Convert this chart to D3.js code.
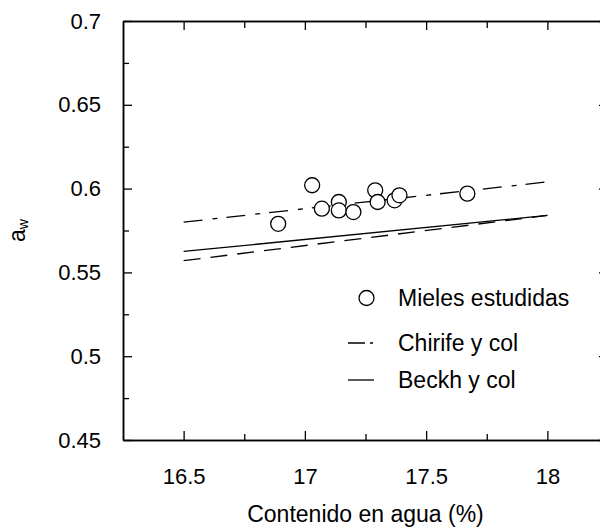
<!DOCTYPE html>
<html>
<head>
<meta charset="utf-8">
<script src="https://cdn.jsdelivr.net/npm/d3@7"></script>
<style>
  body { margin: 0; background: #fff; }
  svg { display: block; }
  text { font-family: "Liberation Sans", Arial, sans-serif; fill: #000; }
</style>
</head>
<body>
<svg id="chart"></svg>
<script>
// measured honeys
const waterContent = [16.89, 17.03, 17.07, 17.14, 17.14, 17.2, 17.29, 17.3, 17.37, 17.39, 17.67];
const awMeasured = [0.579, 0.602, 0.588, 0.592, 0.587, 0.586, 0.599, 0.592, 0.593, 0.596, 0.597];

// fitted lines (endpoints)
const lineX = [16.5, 18];
const fitAw = [0.58, 0.604];
const chirifeAw = [0.557, 0.584];
const beckhAw = [0.5625, 0.584];

const xMajor = [16.5, 17, 17.5, 18];
const xMinor = [16.75, 17.25, 17.75];
const yMajor = [0.45, 0.5, 0.55, 0.6, 0.65, 0.7];
const yMinor = [0.475, 0.525, 0.575, 0.625, 0.675];

const legendLabels = ["Mieles estudidas", "Chirife y col", "Beckh y col"];

const width = 600;
const height = 530;
const fontSize = 22;
const titleSize = 23;

const svg = d3.select("#chart").attr("width", width).attr("height", height);

const x = d3.scaleLinear().domain([16.25, 18.25]).range([123, 608]);
const y = d3.scaleLinear().domain([0.45, 0.7]).range([440, 21]);

function styleAxis(g) {
  g.select(".domain").attr("stroke", "#000").attr("stroke-width", 1.5);
  g.selectAll(".tick line").attr("stroke", "#000").attr("stroke-width", 1.3);
  g.selectAll(".tick text")
    .attr("font-size", fontSize)
    .attr("font-family", "Liberation Sans, Arial, sans-serif")
    .attr("fill", "#000");
}

// bottom
svg.append("g")
  .attr("transform", `translate(0,${y(0.45)})`)
  .call(d3.axisBottom(x).tickValues(xMajor).tickSizeInner(-9).tickSizeOuter(0)
    .tickPadding(28).tickFormat(d3.format("")))
  .call(styleAxis);
svg.append("g")
  .attr("transform", `translate(0,${y(0.45)})`)
  .call(d3.axisBottom(x).tickValues(xMinor).tickSizeInner(-6).tickSizeOuter(0).tickFormat(""))
  .call(styleAxis);

// top
svg.append("g")
  .attr("transform", `translate(0,${y(0.7)})`)
  .call(d3.axisTop(x).tickValues(xMajor).tickSizeInner(-9).tickSizeOuter(0).tickFormat(""))
  .call(styleAxis);
svg.append("g")
  .attr("transform", `translate(0,${y(0.7)})`)
  .call(d3.axisTop(x).tickValues(xMinor).tickSizeInner(-7).tickSizeOuter(0).tickFormat(""))
  .call(styleAxis);

// left
svg.append("g")
  .attr("transform", `translate(${x(16.25)},0)`)
  .call(d3.axisLeft(y).tickValues(yMajor).tickSizeInner(-9).tickSizeOuter(0)
    .tickPadding(22).tickFormat(d3.format("")))
  .call(styleAxis);
svg.append("g")
  .attr("transform", `translate(${x(16.25)},0)`)
  .call(d3.axisLeft(y).tickValues(yMinor).tickSizeInner(-6).tickSizeOuter(0).tickFormat(""))
  .call(styleAxis);

// right
svg.append("g")
  .attr("transform", `translate(${x(18.25)},0)`)
  .call(d3.axisRight(y).tickValues(yMajor).tickSizeInner(-9).tickSizeOuter(0).tickFormat(""))
  .call(styleAxis);
svg.append("g")
  .attr("transform", `translate(${x(18.25)},0)`)
  .call(d3.axisRight(y).tickValues(yMinor).tickSizeInner(-6).tickSizeOuter(0).tickFormat(""))
  .call(styleAxis);

// lines
const line = d3.line().x((d) => x(d[0])).y((d) => y(d[1]));
const series = [
  { values: fitAw, dash: "19,10,5,9" },
  { values: chirifeAw, dash: "17,10" },
  { values: beckhAw, dash: null },
];
series.forEach((s) => {
  svg.append("path")
    .datum(lineX.map((v, i) => [v, s.values[i]]))
    .attr("d", line)
    .attr("fill", "none")
    .attr("stroke", "#000")
    .attr("stroke-width", 1.3)
    .attr("stroke-dasharray", s.dash);
});

// points
svg.append("g")
  .selectAll("circle")
  .data(waterContent)
  .join("circle")
  .attr("cx", (d) => x(d))
  .attr("cy", (d, i) => y(awMeasured[i]))
  .attr("r", 7.5)
  .attr("fill", "#fff")
  .attr("stroke", "#000")
  .attr("stroke-width", 1.3);

// legend
const legend = svg.append("g").attr("transform", "translate(348,298)");
const rowY = [0, 45, 82];
legend.append("circle")
  .attr("cx", 18.5).attr("cy", rowY[0]).attr("r", 7.5)
  .attr("fill", "#fff").attr("stroke", "#000").attr("stroke-width", 1.3);
legend.append("line")
  .attr("x1", 0).attr("x2", 25).attr("y1", rowY[1]).attr("y2", rowY[1])
  .attr("stroke", "#000").attr("stroke-width", 1.3).attr("stroke-dasharray", "17,5");
legend.append("line")
  .attr("x1", 0).attr("x2", 26).attr("y1", rowY[2]).attr("y2", rowY[2])
  .attr("stroke", "#000").attr("stroke-width", 1.3);
legend.selectAll("text")
  .data(legendLabels)
  .join("text")
  .attr("x", 50)
  .attr("y", (d, i) => rowY[i])
  .attr("dy", "0.35em")
  .attr("font-size", titleSize)
  .text((d) => d);

// axis titles
svg.append("text")
  .attr("x", x(17.25))
  .attr("y", 522)
  .attr("text-anchor", "middle")
  .attr("font-size", titleSize)
  .text("Contenido en agua (%)");

const yTitle = svg.append("text")
  .attr("transform", `translate(25,${y(0.575)}) rotate(-90)`)
  .attr("text-anchor", "middle")
  .attr("font-size", titleSize);
yTitle.append("tspan").text("a");
yTitle.append("tspan").attr("font-size", 14).attr("dy", "0.2em").text("w");
</script>
</body>
</html>
